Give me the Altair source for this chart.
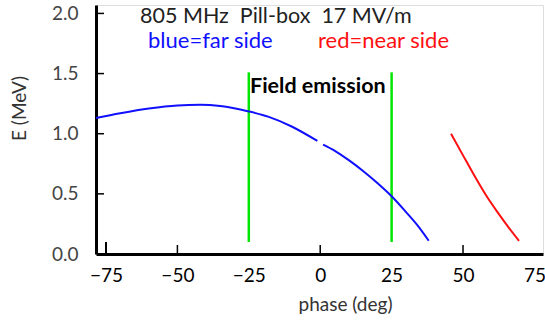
import altair as alt
import pandas as pd

# ---- data ----
blue_phase = [-78.5, -70, -60, -50, -42, -35, -25, -18, -10, -1,
              1, 5, 10, 15, 20, 25, 30, 34, 38]
blue_E = [1.13, 1.17, 1.21, 1.235, 1.24, 1.23, 1.185, 1.14, 1.06, 0.94,
          0.91, 0.86, 0.78, 0.69, 0.59, 0.48, 0.35, 0.24, 0.11]
blue_seg = [1] * 10 + [2] * 9

red_phase = [45.8, 50, 54, 58, 62, 66, 69.6]
red_E = [1.0, 0.82, 0.65, 0.49, 0.35, 0.22, 0.11]

green_phase = [-25, 25]
green_lo = [0.1, 0.1]
green_hi = [1.51, 1.51]

x_labels = [-75, -50, -25, 0, 25, 50, 75]
y_labels = [0.0, 0.5, 1.0, 1.5, 2.0]
x_tick_marks = [-50, 0, 50]
x_tick_big = [-75]
y_tick_marks = [0.5, 1.0, 1.5, 2.0]

W, H = 447, 249
XDOM = [-78.5, 78]
YDOM = [0, 2.07]
FONT = "Lato"

xs = alt.Scale(domain=XDOM, nice=False, zero=False)
ys = alt.Scale(domain=YDOM, nice=False)

blue_df = pd.DataFrame({"phase": blue_phase, "E": blue_E, "seg": blue_seg})
red_df = pd.DataFrame({"phase": red_phase, "E": red_E})
green_df = pd.DataFrame({"phase": green_phase, "lo": green_lo, "hi": green_hi})

xaxis = alt.Axis(values=x_labels, title="phase (deg)", ticks=False, grid=False,
                 domainColor="black", domainWidth=3, labelFont=FONT,
                 labelFontSize=19, labelColor="black", labelPadding=12,
                 titleFont=FONT, titleFontSize=19, titleFontWeight="normal",
                 titleColor="#333", titleX=249, titleY=41, titleBaseline="top",
                 titleAlign="center")
yaxis = alt.Axis(values=y_labels, title="E (MeV)", ticks=False, grid=False,
                 domainColor="black", domainWidth=3, labelFont=FONT,
                 labelFontSize=19, labelColor="#444", labelPadding=18,
                 format=".1f", titleFont=FONT, titleFontSize=19,
                 titleFontWeight="normal", titleColor="#333", titleX=-86,
                 titleY=103, titleBaseline="top", titleAlign="center")

base_axes = alt.Chart(blue_df).mark_line(opacity=0).encode(
    x=alt.X("phase:Q", scale=xs, axis=xaxis),
    y=alt.Y("E:Q", scale=ys, axis=yaxis),
)

blue = alt.Chart(blue_df).mark_line(color="#1010ff", strokeWidth=2,
                                    interpolate="monotone").encode(
    x=alt.X("phase:Q", scale=xs), y=alt.Y("E:Q", scale=ys), detail="seg:N")

red = alt.Chart(red_df).mark_line(color="#ff1010", strokeWidth=2,
                                  interpolate="monotone").encode(
    x=alt.X("phase:Q", scale=xs), y=alt.Y("E:Q", scale=ys))

green = alt.Chart(green_df).mark_rule(color="#00e600", strokeWidth=2.5).encode(
    x=alt.X("phase:Q", scale=xs), y=alt.Y("lo:Q", scale=ys), y2="hi:Q")

xt = alt.Chart(pd.DataFrame({"t": x_tick_marks})).mark_rule(
    color="black", strokeWidth=1.5).encode(
    x=alt.X("t:Q", scale=xs), y=alt.value(H), y2=alt.value(H - 9))
xt_big = alt.Chart(pd.DataFrame({"t": x_tick_big})).mark_rule(
    color="black", strokeWidth=2).encode(
    x=alt.X("t:Q", scale=xs), y=alt.value(H), y2=alt.value(H - 12))
yt = alt.Chart(pd.DataFrame({"t": y_tick_marks})).mark_rule(
    color="black", strokeWidth=1.5).encode(
    y=alt.Y("t:Q", scale=ys), x=alt.value(0), x2=alt.value(8))

one = pd.DataFrame({"a": [0]})
def label(text, x, y, color, size=20, weight="normal"):
    return alt.Chart(one).mark_text(
        text=text, align="left", baseline="alphabetic", font=FONT,
        fontSize=size, fontWeight=weight, color=color).encode(
        x=alt.value(x), y=alt.value(y))

NB = "\u00a0"
t1 = label("805 MHz" + NB + NB + "Pill-box" + NB + NB + "17 MV/m", 44, 18, "#222", 21.5)
t2 = label("blue=far side", 52, 43, "#1010ff", 22)
t3 = label("red=near side", 222, 43, "#ff1010", 22)
t4 = label("Field emission", 154, 88, "black", 21.5, "bold")

chart = alt.layer(base_axes, green, blue, red, xt, xt_big, yt, t1, t2, t3, t4).properties(
    width=W, height=H,
    autosize=alt.AutoSizeParams(type="none"),
    padding={"left": 96, "top": 5, "right": 2, "bottom": 66},
).configure_view(stroke=None).configure(background="white")

chart.save("out.html", embed_options={"renderer": "svg", "actions": False})
